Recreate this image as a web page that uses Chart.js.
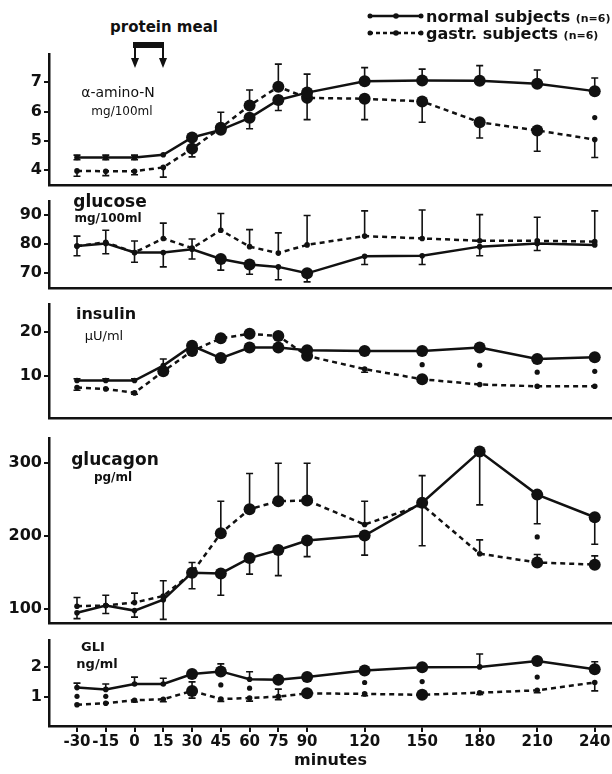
<!DOCTYPE html>
<html>
<head>
<meta charset="utf-8">
<script src="https://cdn.jsdelivr.net/npm/chart.js@4.4.1/dist/chart.umd.min.js"></script>
<style>
  body { margin: 0; background: #fff; }
  #page { position: relative; width: 612px; height: 774px; overflow: hidden; background: #fff; font-family: 'DejaVu Sans', sans-serif; font-weight: bold; color: #111; }
  canvas { position: absolute; left: 0; }
  .lbl { position: absolute; transform: translate(-50%, -50%); white-space: nowrap; }
  .leg { position: absolute; white-space: nowrap; font-size: 16px; transform: translateY(-50%); }
  .leg small { font-size: 11px; }
</style>
</head>
<body>
<div id="page">
  <canvas id="cAmn" width="612" height="134" style="top:53px"></canvas>
  <canvas id="cGlu" width="612" height="90" style="top:200px"></canvas>
  <canvas id="cIns" width="612" height="117" style="top:303px"></canvas>
  <canvas id="cGcg" width="612" height="188" style="top:437px"></canvas>
  <canvas id="cGli" width="612" height="135" style="top:639px"></canvas>

  <div class="lbl" style="left:164px;top:27px;font-size:15px">protein meal</div>
  <svg style="position:absolute;left:0;top:0" width="612" height="80">
    <rect x="133" y="42" width="31" height="6" fill="#111"/>
    <line x1="135" y1="44" x2="135" y2="60" stroke="#111" stroke-width="2"/>
    <line x1="163" y1="44" x2="163" y2="60" stroke="#111" stroke-width="2"/>
    <polygon points="131,58 139,58 135,68" fill="#111"/>
    <polygon points="159,58 167,58 163,68" fill="#111"/>
    <line x1="369" y1="16" x2="422" y2="16" stroke="#111" stroke-width="2.5"/>
    <circle cx="370" cy="16" r="2.5" fill="#111"/><circle cx="396" cy="16" r="2.8" fill="#111"/><circle cx="421" cy="16" r="2.5" fill="#111"/>
    <line x1="369" y1="33" x2="422" y2="33" stroke="#111" stroke-width="2.5" stroke-dasharray="4 3"/>
    <circle cx="370" cy="33" r="2.5" fill="#111"/><circle cx="396" cy="33" r="2.8" fill="#111"/><circle cx="421" cy="33" r="2.5" fill="#111"/>
  </svg>
  <div class="leg" style="left:426px;top:16px">normal subjects <small>(n=6)</small></div>
  <div class="leg" style="left:426px;top:33px">gastr. subjects <small>(n=6)</small></div>

  <div class="lbl" style="left:118px;top:92px;font-size:14px;font-weight:normal">α-amino-N</div>
  <div class="lbl" style="left:122px;top:111px;font-size:12px;font-weight:normal">mg/100ml</div>
  <div class="lbl" style="left:110px;top:201px;font-size:17px">glucose</div>
  <div class="lbl" style="left:108px;top:218px;font-size:12px">mg/100ml</div>
  <div class="lbl" style="left:106px;top:313px;font-size:16px">insulin</div>
  <div class="lbl" style="left:104px;top:335px;font-size:13px;font-weight:normal">μU/ml</div>
  <div class="lbl" style="left:115px;top:459px;font-size:17px">glucagon</div>
  <div class="lbl" style="left:113px;top:477px;font-size:12px">pg/ml</div>
  <div class="lbl" style="left:93px;top:646px;font-size:13px">GLI</div>
  <div class="lbl" style="left:97px;top:663px;font-size:13px">ng/ml</div>
</div>
<script>
// minutes after the protein meal (shared x axis)
const minutes = [-30, -15, 0, 15, 30, 45, 60, 75, 90, 120, 150, 180, 210, 240];

// α-amino-N  (mg/100ml)
const amnTicks = [4, 5, 6, 7];
const amnNormal = [4.44, 4.44, 4.44, 4.53, 5.12, 5.38, 5.79, 6.4, 6.65, 7.04, 7.06, 7.05, 6.95, 6.7];
const amnNormalUp = [0.08, 0.08, 0.08, 0, 0, 0, 0, 0, 0.63, 0.46, 0.39, 0.52, 0.47, 0.45];
const amnNormalDn = [0.08, 0.08, 0.08, 0, 0, 0, 0.37, 0.36, 0, 0, 0, 0, 0, 0];
const amnNormalBig = [30, 45, 60, 75, 90, 120, 150, 180, 210, 240];
const amnGastr = [3.98, 3.97, 3.97, 4.1, 4.74, 5.45, 6.21, 6.85, 6.47, 6.44, 6.35, 5.64, 5.36, 5.05];
const amnGastrUp = [0, 0, 0, 0, 0, 0.53, 0.53, 0.77, 0, 0, 0, 0, 0, 0];
const amnGastrDn = [0.18, 0.15, 0.12, 0.33, 0.28, 0, 0, 0, 0.74, 0.71, 0.71, 0.54, 0.71, 0.61];
const amnGastrBig = [30, 45, 60, 75, 90, 120, 150, 180, 210];
const amnSigX = [240];
const amnSigY = [5.8];

// glucose (mg/100ml)
const gluTicks = [70, 80, 90];
const gluNormal = [79.3, 80.2, 77.1, 77.1, 78.2, 74.9, 73, 72.2, 70, 75.8, 76, 79.1, 80.2, 79.7];
const gluNormalUp = [3.4, 4.5, 3.9, 0, 3.5, 0, 0, 0, 0, 0, 0, 0, 0, 0];
const gluNormalDn = [3.3, 3.5, 3.3, 4.9, 3.3, 3.8, 3.3, 4.4, 2.9, 2.8, 3, 3.1, 2.4, 0];
const gluNormalBig = [45, 60, 90];
const gluGastr = [79.3, 80.6, 77.1, 81.9, 78.6, 84.7, 79.1, 76.9, 79.7, 82.7, 81.9, 81.1, 81.1, 80.8];
const gluGastrUp = [0, 0, 0, 5.2, 0, 5.7, 5.8, 6.9, 10, 8.6, 9.7, 8.9, 8, 10.5];
const gluGastrDn = [0, 0, 0, 0, 0, 0, 0, 0, 0, 0, 0, 0, 0, 0];
const gluGastrBig = [];

// insulin (µU/ml)
const insTicks = [10, 20];
const insNormal = [9.0, 9.0, 9.0, 12.4, 16.9, 14.1, 16.5, 16.5, 15.9, 15.7, 15.7, 16.5, 13.9, 14.3];
const insNormalUp = [0.4, 0.4, 0.4, 1.5, 0, 0, 0, 0, 0, 0, 0, 0, 0, 0];
const insNormalDn = [0, 0, 0, 0, 0, 0, 0, 0, 0, 0, 0, 0, 0, 0];
const insNormalBig = [30, 45, 60, 75, 90, 120, 150, 180, 210, 240];
const insGastr = [7.4, 7.1, 6.2, 11.1, 15.7, 18.6, 19.6, 19.1, 14.6, 11.6, 9.3, 8.1, 7.7, 7.7];
const insGastrUp = [0, 0, 0, 0, 0, 0, 0, 0, 0, 0, 0, 0, 0, 0];
const insGastrDn = [0.6, 0, 0.3, 0, 0, 0, 0, 0, 0, 0.7, 0, 0, 0, 0];
const insGastrBig = [15, 30, 45, 60, 75, 90, 150];
const insSigX = [150, 180, 210, 240];
const insSigY = [12.6, 12.5, 10.9, 11.1];

// glucagon (pg/ml)
const gcgTicks = [100, 200, 300];
const gcgNormal = [95, 105, 98, 113, 150, 149, 170, 181, 194, 201, 246, 316, 257, 226];
const gcgNormalUp = [0, 14, 0, 26, 14, 0, 0, 0, 0, 0, 0, 0, 0, 0];
const gcgNormalDn = [8, 11, 9, 27, 22, 30, 22, 35, 22, 27, 59, 73, 40, 37];
const gcgNormalBig = [30, 45, 60, 75, 90, 120, 150, 180, 210, 240];
const gcgGastr = [104, 105, 109, 118, 150, 204, 237, 248, 249, 216, 243, 176, 164, 161];
const gcgGastrUp = [12, 0, 13, 0, 0, 44, 49, 52, 51, 32, 40, 19, 11, 12];
const gcgGastrDn = [0, 0, 0, 0, 0, 0, 0, 0, 0, 0, 0, 0, 0, 0];
const gcgGastrBig = [45, 60, 75, 90, 210, 240];
const gcgSigX = [210];
const gcgSigY = [199];

// GLI (ng/ml)
const gliTicks = [1, 2];
const gliNormal = [1.31, 1.25, 1.43, 1.43, 1.76, 1.85, 1.59, 1.57, 1.66, 1.88, 1.99, 2.0, 2.2, 1.92];
const gliNormalUp = [0.15, 0.18, 0.23, 0.19, 0, 0.25, 0.25, 0, 0, 0, 0, 0.43, 0, 0.25];
const gliNormalDn = [0, 0, 0, 0, 0, 0, 0, 0, 0, 0, 0, 0, 0, 0];
const gliNormalBig = [30, 45, 75, 90, 120, 150, 210, 240];
const gliGastr = [0.74, 0.79, 0.89, 0.92, 1.2, 0.93, 0.96, 1.01, 1.12, 1.1, 1.07, 1.14, 1.22, 1.48];
const gliGastrUp = [0, 0, 0, 0, 0.3, 0, 0, 0.25, 0, 0, 0, 0, 0, 0];
const gliGastrDn = [0, 0, 0.06, 0.08, 0.24, 0.08, 0.1, 0.1, 0, 0.06, 0, 0.06, 0.08, 0.28];
const gliGastrBig = [30, 90, 150];
const gliSigX = [-30, -15, 45, 60, 120, 150, 210];
const gliSigY = [1.02, 1.02, 1.4, 1.29, 1.48, 1.51, 1.66];

//! --------------------------------------------------------------

const INK = '#111';
const FONT = 'DejaVu Sans';

// error bars, drawn from the value to value +/- sem
const errorBars = {
  id: 'errorBars',
  afterDatasetsDraw(chart) {
    const ctx = chart.ctx;
    const xs = chart.scales.x;
    const ys = chart.scales.y;
    chart.data.datasets.forEach((ds) => {
      if (!ds.errUp) return;
      ctx.save();
      ctx.strokeStyle = INK;
      ctx.lineWidth = 1.6;
      ds.data.forEach((p, i) => {
        const px = xs.getPixelForValue(p.x);
        const py = ys.getPixelForValue(p.y);
        [[ds.errUp[i], 1], [ds.errDn[i], -1]].forEach(([e, s]) => {
          if (!e) return;
          const pe = ys.getPixelForValue(p.y + s * e);
          ctx.beginPath();
          ctx.moveTo(px, py);
          ctx.lineTo(px, pe);
          ctx.moveTo(px - 3.5, pe);
          ctx.lineTo(px + 3.5, pe);
          ctx.stroke();
        });
      });
      ctx.restore();
    });
  },
};

let points = (vals) => minutes.map((m, i) => ({ x: m, y: vals[i] }));
let radii = (big) => minutes.map((m) => (big.includes(m) ? 6 : 2.8));

let lineSet = (vals, up, dn, big, dashed) => ({
  data: points(vals),
  errUp: up,
  errDn: dn,
  borderColor: INK,
  backgroundColor: INK,
  borderWidth: 2.5,
  borderDash: dashed ? [5, 4] : [],
  pointRadius: radii(big),
  pointBorderWidth: 0,
  pointBackgroundColor: INK,
  tension: 0,
  clip: false,
  order: dashed ? 2 : 1,
});

let sigSet = (xs, ys) => ({
  data: xs.map((m, i) => ({ x: m, y: ys[i] })),
  showLine: false,
  pointRadius: 2.6,
  pointBorderWidth: 0,
  pointBackgroundColor: INK,
  clip: false,
});

function makePanel(id, yMin, yMax, yTicks, datasets, bottom) {
  const xOpts = {
    type: 'linear',
    min: -44.6,
    max: 249,
    afterBuildTicks: (s) => {
      s.ticks = minutes.map((v) => ({ value: v }));
    },
    afterFit: (s) => {
      s.height = bottom ? 48 : 2;
      s.paddingLeft = 0;
      s.paddingRight = 0;
    },
    border: { display: true, color: INK, width: 2.5 },
    grid: {
      display: bottom,
      drawOnChartArea: false,
      drawTicks: true,
      tickLength: 6,
      color: INK,
      lineWidth: 2,
    },
    ticks: {
      display: bottom,
      color: INK,
      padding: 1,
      maxRotation: 0,
      autoSkip: false,
      font: { family: FONT, size: 15, weight: 'bold' },
    },
    title: {
      display: bottom,
      text: 'minutes',
      color: INK,
      padding: { top: 0, bottom: 4 },
      font: { family: FONT, size: 16, weight: 'bold' },
    },
  };

  const yOpts = {
    min: yMin,
    max: yMax,
    afterBuildTicks: (s) => {
      s.ticks = yTicks.map((v) => ({ value: v }));
    },
    afterFit: (s) => {
      s.width = 49;
      s.paddingTop = 0;
      s.paddingBottom = 0;
    },
    border: { display: true, color: INK, width: 2.5 },
    grid: {
      drawOnChartArea: false,
      drawTicks: true,
      tickLength: 5,
      color: INK,
      lineWidth: 2,
    },
    ticks: {
      color: INK,
      padding: 2,
      font: { family: FONT, size: 16, weight: 'bold' },
    },
  };

  return new Chart(document.getElementById(id), {
    type: 'line',
    data: { datasets },
    options: {
      responsive: false,
      animation: false,
      events: [],
      layout: { autoPadding: false, padding: 0 },
      plugins: { legend: { display: false }, tooltip: { enabled: false } },
      scales: { x: xOpts, y: yOpts },
    },
    plugins: [errorBars],
  });
}

makePanel('cAmn', 3.5, 8, amnTicks, [
  lineSet(amnNormal, amnNormalUp, amnNormalDn, amnNormalBig, false),
  lineSet(amnGastr, amnGastrUp, amnGastrDn, amnGastrBig, true),
  sigSet(amnSigX, amnSigY),
], false);

makePanel('cGlu', 65, 95, gluTicks, [
  lineSet(gluNormal, gluNormalUp, gluNormalDn, gluNormalBig, false),
  lineSet(gluGastr, gluGastrUp, gluGastrDn, gluGastrBig, true),
], false);

makePanel('cIns', 0.5, 26.6, insTicks, [
  lineSet(insNormal, insNormalUp, insNormalDn, insNormalBig, false),
  lineSet(insGastr, insGastrUp, insGastrDn, insGastrBig, true),
  sigSet(insSigX, insSigY),
], false);

makePanel('cGcg', 81, 336, gcgTicks, [
  lineSet(gcgNormal, gcgNormalUp, gcgNormalDn, gcgNormalBig, false),
  lineSet(gcgGastr, gcgGastrUp, gcgGastrDn, gcgGastrBig, true),
  sigSet(gcgSigX, gcgSigY),
], false);

makePanel('cGli', 0.03, 2.93, gliTicks, [
  lineSet(gliNormal, gliNormalUp, gliNormalDn, gliNormalBig, false),
  lineSet(gliGastr, gliGastrUp, gliGastrDn, gliGastrBig, true),
  sigSet(gliSigX, gliSigY),
], true);
</script>
</body>
</html>
